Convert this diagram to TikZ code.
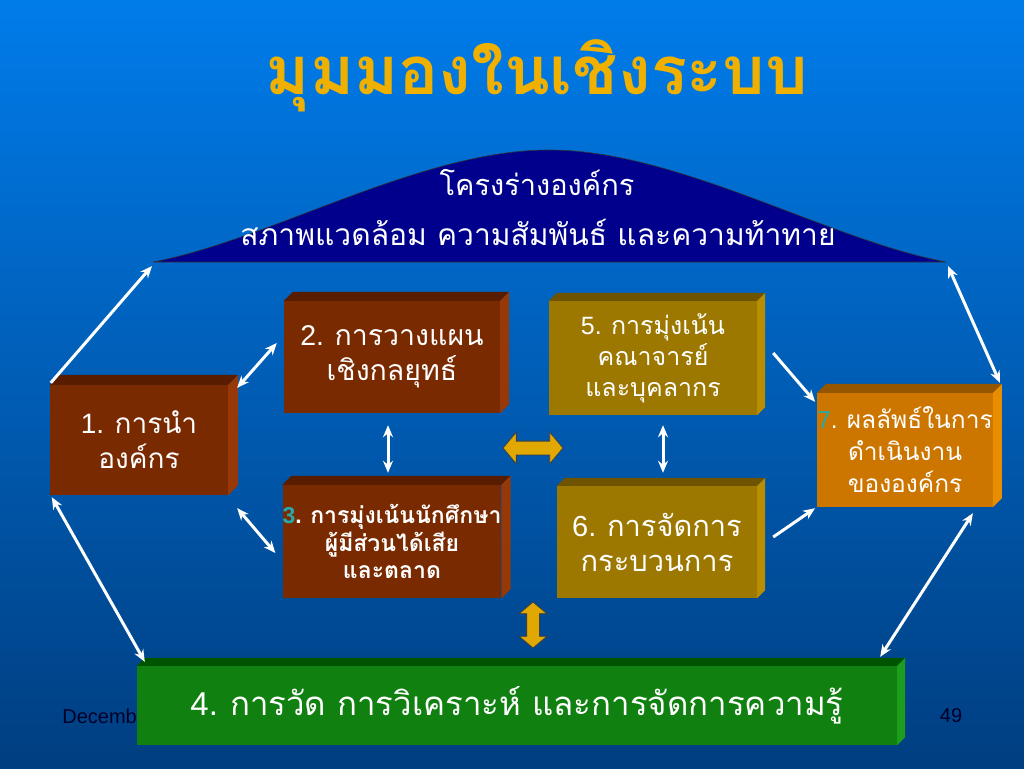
\documentclass[tikz,border=0pt]{standalone}
\usepackage{fontspec}
\setmainfont{Liberation Sans}
\newfontfamily\thai[Script=Thai]{Loma}
\usetikzlibrary{arrows.meta,shapes.arrows,calc}
\definecolor{bgtop}{RGB}{0,124,234}
\definecolor{bgmid}{RGB}{0,98,196}
\definecolor{bgbot}{RGB}{0,62,128}
\definecolor{titlegold}{RGB}{240,176,0}
\definecolor{archblue}{RGB}{0,0,140}
\definecolor{brF}{RGB}{122,42,0}
\definecolor{brT}{RGB}{88,28,0}
\definecolor{brS}{RGB}{150,56,8}
\definecolor{olF}{RGB}{156,120,0}
\definecolor{olT}{RGB}{110,84,0}
\definecolor{olS}{RGB}{184,142,0}
\definecolor{orF}{RGB}{204,118,0}
\definecolor{orT}{RGB}{150,86,0}
\definecolor{orS}{RGB}{232,140,0}
\definecolor{grF}{RGB}{16,128,16}
\definecolor{grT}{RGB}{0,84,0}
\definecolor{grS}{RGB}{30,156,30}
\definecolor{gold}{RGB}{224,168,0}
\definecolor{tealnum}{RGB}{40,170,170}
\definecolor{footer}{RGB}{0,0,40}
\tikzset{
 boxface/.style={rectangle, inner sep=0pt, text=white, align=center},
 wa/.style={draw=white, line width=3pt, -{Stealth[length=12pt,width=10pt]}},
 wda/.style={draw=white, line width=3pt, {Stealth[length=12pt,width=10pt]}-{Stealth[length=12pt,width=10pt]}},
 goldarrow/.style={double arrow, fill=gold, draw=black!75, line width=0.8pt, inner sep=0pt, double arrow tip angle=100},
}
\newcommand\cubefaces[4]{%
 \fill[#3] (#1.north west) -- ++(#2,-#2) -- ($(#1.north east)+(#2,-#2)$) -- (#1.north east) -- cycle;
 \fill[#4] (#1.north east) -- ++(#2,-#2) -- ($(#1.south east)+(#2,-#2)$) -- (#1.south east) -- cycle;}
\begin{document}
\begin{tikzpicture}[x=1pt,y=-1pt]
\useasboundingbox (0,0) rectangle (1024,768);
\shade[top color=bgtop, middle color=bgmid, bottom color=bgbot] (0,0) rectangle (1024,768);
% title
\node[text=titlegold, font=\thai\bfseries\fontsize{67}{78}\selectfont] (title) at (537,76) {มุมมองในเชิงระบบ};
% arch
\filldraw[fill=archblue, draw=black!80, line width=0.6pt] (153,262) .. controls (270,240) and (420,150) .. (549,150) .. controls (678,150) and (828,240) .. (946,262) -- cycle;
\coordinate (archL) at (153,262);
\coordinate (archR) at (946,262);
\node[text=white, font=\thai\fontsize{29}{32}\selectfont] (arch1) at (537,183) {โครงร่างองค์กร};
\node[text=white, font=\thai\fontsize{30}{32}\selectfont] (arch2) at (538,232) {สภาพแวดล้อม ความสัมพันธ์ และความท้าทาย};
% footer
\node[text=footer, font=\fontsize{20}{22}\selectfont, anchor=east, inner sep=0pt] (date) at (137,716) {Decemb};
\node[text=footer, font=\fontsize{20}{22}\selectfont, inner sep=0pt] (page) at (951,716) {49};
% boxes
\node[boxface, fill=brF, minimum width=178pt, minimum height=110pt, font=\fontsize{28}{35}\selectfont] (b1) at (139,440) {1. \thai การนำ\\\thai องค์กร};
\cubefaces{b1}{10}{brT}{brS}
\node[boxface, fill=brF, minimum width=216pt, minimum height=112pt, font=\fontsize{28.5}{35}\selectfont] (b2) at (392,357) {2. \thai การวางแผน\\\thai เชิงกลยุทธ์};
\cubefaces{b2}{9}{brT}{brS}
\node[boxface, fill=brF, minimum width=216pt, minimum height=113pt, font=\bfseries\fontsize{23}{27.5}\selectfont] (b3) at (392,541.5) {\textcolor{tealnum}{3}. \thai การมุ่งเน้นนักศึกษา\\\thai ผู้มีส่วนได้เสีย\\\thai และตลาด};
\cubefaces{b3}{9}{brT}{brS}
\node[boxface, fill=olF, minimum width=208pt, minimum height=114pt, font=\fontsize{25}{31}\selectfont] (b5) at (653,358) {5. \thai การมุ่งเน้น\\\thai คณาจารย์\\\thai และบุคลากร};
\cubefaces{b5}{8}{olT}{olS}
\node[boxface, fill=olF, minimum width=200pt, minimum height=112pt, font=\fontsize{29}{35}\selectfont] (b6) at (657,542) {6. \thai การจัดการ\\\thai กระบวนการ};
\cubefaces{b6}{8}{olT}{olS}
\node[boxface, fill=orF, minimum width=170pt, minimum height=114pt, font=\fontsize{24.5}{32}\selectfont] (b7) at (905,450) {\textcolor{tealnum}{7}. \thai ผลลัพธ์ในการ\\\thai ดำเนินงาน\\\thai ขององค์กร};
\cubefaces{b7}{9}{orT}{orS}
\node[boxface, fill=grF, minimum width=760pt, minimum height=79pt, font=\fontsize{33}{38}\selectfont] (b4) at (517,705.5) {4. \thai การวัด การวิเคราะห์ และการจัดการความรู้};
\cubefaces{b4}{8}{grT}{grS}
% white connectors
\draw[wa] ($(b1.north west)+(1,-2)$) -- ($(archL)+(-1,4)$);
\draw[wda] ($(archR)+(2,4)$) -- ($(b7.north east)+(7,-10)$);
\draw[wda] ($(b1.north east)+(9,3)$) -- ($(b2.west)+(-7,-14)$);
\draw[wda] ($(b1.south east)+(9,13)$) -- ($(b3.west)+(-7,11.5)$);
\draw[wda] ($(b2.south)+(-4,12)$) -- ($(b3.north)+(-4,-12)$);
\draw[wda] ($(b5.south)+(10,10)$) -- ($(b6.north)+(6,-13)$);
\draw[wa] ($(b5.east)+(16,-5)$) -- ($(b7.north west)+(-2,9)$);
\draw[wa] ($(b6.east)+(16,-5)$) -- ($(b7.south west)+(-2,1)$);
\draw[wda] ($(b1.south west)+(2,2)$) -- ($(b4.north west)+(8,-4)$);
\draw[wda] ($(b4.north east)+(-17,-9)$) -- ($(b7.south east)+(-20,6)$);
% gold block arrows
\node[goldarrow, minimum height=60pt, double arrow head extend=9pt] (hgold) at (533,448) {\rule{0pt}{13pt}};
\node[goldarrow, rotate=90, minimum height=46pt, double arrow head extend=7.5pt] (vgold) at (533,625) {\rule{0pt}{12pt}};
\end{tikzpicture}
\end{document}
